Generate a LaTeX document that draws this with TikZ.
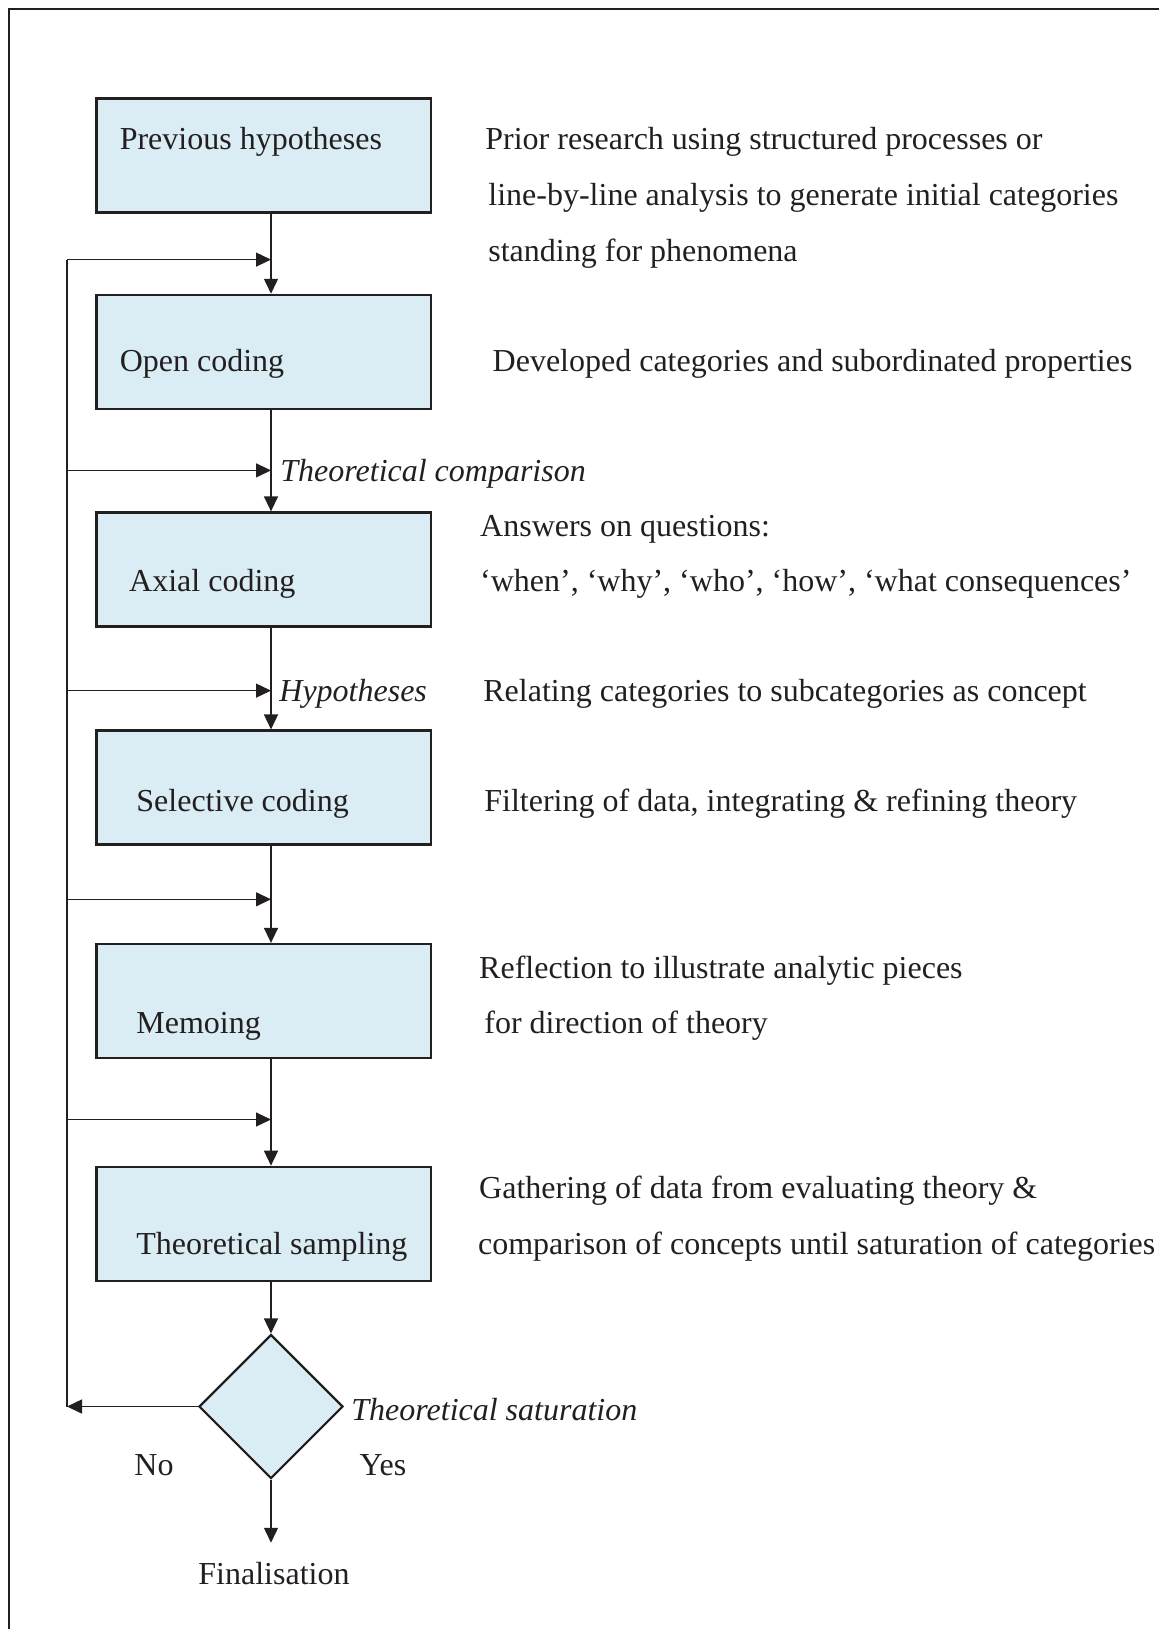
\documentclass[tikz,border=0pt]{standalone}
\usepackage{fontspec}
\setmainfont{Liberation Serif}
\usetikzlibrary{arrows.meta,shapes.geometric}

\definecolor{stepfill}{RGB}{218,237,244}
\definecolor{inkgray}{RGB}{35,31,32}

\tikzset{
  stage/.style={draw=inkgray, line width=1.25pt, fill=stepfill, minimum width=167.2pt, minimum height=57pt, inner sep=0pt},
  decide/.style={diamond, draw=inkgray, line width=1.1pt, fill=stepfill, minimum width=72pt, minimum height=72pt, inner sep=0pt},
  txt/.style={anchor=base west, inner sep=0pt, text=inkgray},
  flow/.style={draw=inkgray, line width=0.75pt, -{Triangle[length=7.5pt,width=7pt]}},
  loopline/.style={draw=inkgray, line width=0.6pt},
}

\begin{document}
\begin{tikzpicture}[x=0.5pt, y=-0.5pt, font=\fontsize{16pt}{19pt}\selectfont]
  \useasboundingbox (0,0) rectangle (1159,1629);
  % frame runs off the page at right and bottom
  \draw[inkgray, line width=1.3pt] (9,1629) -- (9,9) -- (1159,9);

  % the coding stages
  \node[stage] (prev)      at (263.8,155.7)  {};
  \node[stage] (open)      at (263.8,352)    {};
  \node[stage] (axial)     at (263.8,569.6)  {};
  \node[stage] (selective) at (263.8,787.7)  {};
  \node[stage] (memo)      at (263.8,1001.1) {};
  \node[stage] (sampling)  at (263.8,1223.9) {};
  \node[decide] (sat)      at (271,1406.5)   {};

  \node[txt] (prevname)      at (119.4,149)  {Previous hypotheses};
  \node[txt] (openname)      at (119.4,371)  {Open coding};
  \node[txt] (axialname)     at (128.8,591)  {Axial coding};
  \node[txt] (selectivename) at (136,811)    {Selective coding};
  \node[txt] (memoname)      at (136,1033)   {Memoing};
  \node[txt] (samplingname)  at (136,1254)   {Theoretical sampling};

  % notes on the right
  \node[txt] (prevnote1)  at (485,149)    {Prior research using structured processes or};
  \node[txt] (prevnote2)  at (488,205)    {line-by-line analysis to generate initial categories};
  \node[txt] (prevnote3)  at (488,261)    {standing for phenomena};
  \node[txt] (opennote)   at (492.3,371)  {Developed categories and subordinated properties};
  \node[txt] (axialnote1) at (479.8,536.5) {Answers on questions:};
  \node[txt] (axialnote2) at (479.8,591)  {‘when’, ‘why’, ‘who’, ‘how’, ‘what consequences’};
  \node[txt] (hypnote)    at (483,701.5)  {Relating categories to subcategories as concept};
  \node[txt] (selnote)    at (484,811)    {Filtering of data, integrating \& refining theory};
  \node[txt] (memonote1)  at (478.8,978)  {Reflection to illustrate analytic pieces};
  \node[txt] (memonote2)  at (484,1033)   {for direction of theory};
  \node[txt] (sampnote1)  at (478.8,1198) {Gathering of data from evaluating theory \&};
  \node[txt] (sampnote2)  at (477.7,1254) {comparison of concepts until saturation of categories};

  % italic labels on the spine
  \node[txt, font=\fontsize{16pt}{19pt}\selectfont\itshape] (comparison) at (280,481.5)  {Theoretical comparison};
  \node[txt, font=\fontsize{16pt}{19pt}\selectfont\itshape] (hyp)        at (279,701.5)  {Hypotheses};
  \node[txt, font=\fontsize{16pt}{19pt}\selectfont\itshape] (saturation) at (351,1420)   {Theoretical saturation};

  \node[anchor=base, inner sep=0pt, text=inkgray] (no)  at (154,1475) {No};
  \node[anchor=base, inner sep=0pt, text=inkgray] (yes) at (383,1475) {Yes};
  \node[anchor=base, text=inkgray] (fin) at (274,1584) {Finalisation};

  % main flow
  \coordinate (spine) at (271,0);
  \draw[flow] (prev.south -| spine)      -- (open.north -| spine);
  \draw[flow] (open.south -| spine)      -- (axial.north -| spine);
  \draw[flow] (axial.south -| spine)     -- (selective.north -| spine);
  \draw[flow] (selective.south -| spine) -- (memo.north -| spine);
  \draw[flow] (memo.south -| spine)      -- (sampling.north -| spine);
  \draw[flow] (sampling.south -| spine)  -- (sat.north);
  \draw[flow, shorten >=6pt] (sat.south) -- (sat.south |- fin.north);

  % feedback loop
  \coordinate (back) at (67,1406.5);
  \foreach \j/\y in {1/259.6, 2/470.4, 3/690.6, 4/899.3, 5/1119.5}
    \coordinate (join\j) at (271,\y);
  \draw[flow] (sat.west) -- (back);
  \draw[loopline] (back) -- (back |- join1);
  \foreach \j in {1,...,5}
    \draw[flow, line width=0.6pt] (back |- join\j) -- (join\j);
\end{tikzpicture}
\end{document}
